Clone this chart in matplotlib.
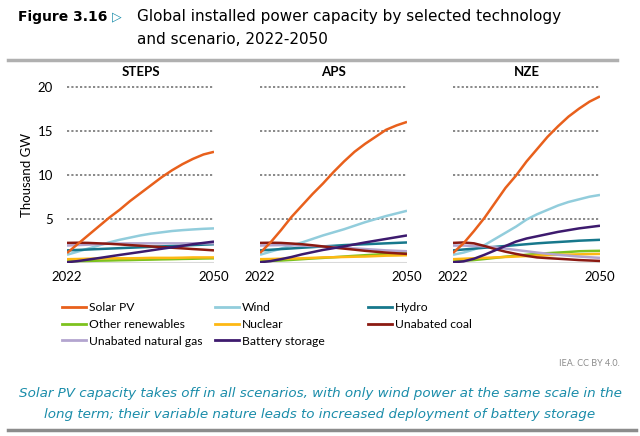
import matplotlib.pyplot as plt
from matplotlib.lines import Line2D

# Datos (miles de GW)
years = [2022, 2024, 2026, 2028, 2030, 2032, 2034, 2036,
         2038, 2040, 2042, 2044, 2046, 2048, 2050]
scenarios = ["STEPS", "APS", "NZE"]
technologies = ["Solar PV", "Wind", "Hydro", "Other renewables", "Nuclear",
                "Unabated coal", "Unabated natural gas", "Battery storage"]

steps_solar = [1.1, 2.1, 3.1, 4.1, 5.1, 6.0, 7.0, 7.9, 8.8, 9.7, 10.5, 11.2, 11.8, 12.3, 12.6]
steps_wind = [0.9, 1.25, 1.6, 1.95, 2.3, 2.6, 2.85, 3.1, 3.3, 3.45, 3.6, 3.7, 3.78, 3.85, 3.9]
steps_hydro = [1.4, 1.45, 1.5, 1.55, 1.6, 1.65, 1.7, 1.75, 1.8, 1.85, 1.9, 1.95, 2.0, 2.05, 2.1]
steps_other = [0.15, 0.18, 0.2, 0.23, 0.25, 0.28, 0.3, 0.33, 0.35, 0.38, 0.4, 0.43, 0.45, 0.48, 0.5]
steps_nuclear = [0.4, 0.42, 0.45, 0.47, 0.5, 0.5, 0.5, 0.52, 0.55, 0.55, 0.55, 0.57, 0.6, 0.6, 0.6]
steps_coal = [2.25, 2.27, 2.25, 2.2, 2.15, 2.08, 2.0, 1.93, 1.85, 1.78, 1.7, 1.63, 1.55, 1.48, 1.4]
steps_gas = [1.95, 2.0, 2.05, 2.1, 2.15, 2.18, 2.2, 2.2, 2.2, 2.2, 2.2, 2.2, 2.2, 2.2, 2.2]
steps_battery = [0.05, 0.18, 0.35, 0.52, 0.7, 0.88, 1.05, 1.22, 1.4, 1.58, 1.75, 1.92, 2.1, 2.25, 2.4]

aps_solar = [1.1, 2.3, 3.7, 5.2, 6.5, 7.8, 9.0, 10.3, 11.5, 12.6, 13.5, 14.3, 15.1, 15.6, 16.0]
aps_wind = [0.9, 1.25, 1.6, 1.95, 2.3, 2.7, 3.1, 3.45, 3.8, 4.2, 4.6, 4.95, 5.3, 5.6, 5.9]
aps_hydro = [1.4, 1.47, 1.55, 1.62, 1.7, 1.77, 1.85, 1.92, 2.0, 2.05, 2.1, 2.15, 2.2, 2.25, 2.3]
aps_other = [0.15, 0.2, 0.25, 0.32, 0.4, 0.48, 0.55, 0.62, 0.7, 0.78, 0.85, 0.92, 1.0, 1.05, 1.1]
aps_nuclear = [0.4, 0.42, 0.45, 0.47, 0.5, 0.55, 0.6, 0.62, 0.65, 0.68, 0.7, 0.75, 0.8, 0.82, 0.85]
aps_coal = [2.25, 2.27, 2.25, 2.18, 2.1, 1.98, 1.85, 1.72, 1.6, 1.48, 1.35, 1.25, 1.15, 1.07, 1.0]
aps_gas = [1.95, 1.98, 2.0, 1.98, 1.95, 1.9, 1.85, 1.78, 1.7, 1.62, 1.55, 1.48, 1.4, 1.35, 1.3]
aps_battery = [0.05, 0.18, 0.4, 0.65, 0.95, 1.2, 1.45, 1.65, 1.85, 2.08, 2.3, 2.5, 2.7, 2.9, 3.1]

nze_solar = [1.1, 2.2, 3.6, 5.1, 6.8, 8.5, 9.9, 11.5, 12.9, 14.3, 15.5, 16.6, 17.5, 18.3, 18.9]
nze_wind = [0.9, 1.15, 1.5, 2.0, 2.7, 3.4, 4.1, 4.9, 5.5, 6.0, 6.5, 6.9, 7.2, 7.5, 7.7]
nze_hydro = [1.4, 1.5, 1.6, 1.7, 1.8, 1.9, 2.0, 2.1, 2.2, 2.28, 2.35, 2.42, 2.5, 2.55, 2.6]
nze_other = [0.15, 0.22, 0.3, 0.42, 0.55, 0.68, 0.8, 0.9, 1.0, 1.08, 1.15, 1.22, 1.3, 1.33, 1.35]
nze_nuclear = [0.4, 0.45, 0.5, 0.55, 0.6, 0.65, 0.7, 0.75, 0.8, 0.85, 0.9, 0.92, 0.95, 0.98, 1.0]
nze_coal = [2.25, 2.3, 2.2, 1.9, 1.55, 1.25, 1.0, 0.78, 0.6, 0.52, 0.45, 0.38, 0.3, 0.25, 0.2]
nze_gas = [1.95, 1.95, 1.9, 1.85, 1.75, 1.6, 1.45, 1.3, 1.15, 1.02, 0.9, 0.8, 0.7, 0.62, 0.55]
nze_battery = [0.05, 0.15, 0.45, 0.9, 1.4, 1.9, 2.4, 2.75, 3.0, 3.25, 3.5, 3.7, 3.9, 4.05, 4.2]

series = {
    "STEPS": [steps_solar, steps_wind, steps_hydro, steps_other,
              steps_nuclear, steps_coal, steps_gas, steps_battery],
    "APS": [aps_solar, aps_wind, aps_hydro, aps_other,
            aps_nuclear, aps_coal, aps_gas, aps_battery],
    "NZE": [nze_solar, nze_wind, nze_hydro, nze_other,
            nze_nuclear, nze_coal, nze_gas, nze_battery],
}

colors = ["#E8601C", "#92CDDC", "#17788C", "#7DC21E",
          "#FDB813", "#8B1A12", "#B3A5CF", "#3D1A6E"]
zorders = [10, 5, 6, 3, 4, 7, 6, 8]

teal = "#1B8DAA"
plt.rcParams['font.family'] = ['Lato', 'DejaVu Sans']

fig = plt.figure(figsize=(6.4, 4.36), dpi=100)

# Posiciones de los paneles (fracción de figura)
lefts = [67 / 640, 260 / 640, 453 / 640]
width = 147 / 640
bottom = 1 - 262.7 / 436
height = 176 / 436

for i, sc in enumerate(scenarios):
    ax = fig.add_axes([lefts[i], bottom, width, height])
    for j, vals in enumerate(series[sc]):
        ax.plot(years, vals, color=colors[j], lw=1.8, zorder=zorders[j],
                solid_capstyle='butt', label=technologies[j])
    ax.set_xlim(2022, 2050)
    ax.set_ylim(0, 20)
    for y in [5, 10, 15, 20]:
        ax.axhline(y, color="#7F7F7F", lw=1.3, ls=(0, (1.2, 1.2)), zorder=1, clip_on=False)
    ax.axhline(0, color="#D9D9D9", lw=1.5, zorder=0)
    for s in ax.spines.values():
        s.set_visible(False)
    ax.set_xticks([2022, 2050])
    ax.set_xticklabels(["2022", "2050"], fontsize=9.5)
    ax.tick_params(axis='x', length=0, pad=6)
    ax.set_yticks([5, 10, 15, 20])
    if i == 0:
        ax.set_yticklabels(["5", "10", "15", "20"], fontsize=9.5)
        ax.tick_params(axis='y', length=0, pad=10)
        ax.set_ylabel("Thousand GW", fontsize=9.5, labelpad=3)
    else:
        ax.tick_params(axis='y', length=0, labelleft=False)
    ax.set_title(sc, fontsize=9.5, fontweight='bold', pad=8)

# Leyenda en tres columnas
handles = [Line2D([], [], color=c, lw=2) for c in colors]
cols = [[0, 3, 6], [1, 4, 7], [2, 5]]
col_x = [62, 215, 368]
for k, idx in enumerate(cols):
    fig.legend([handles[n] for n in idx], [technologies[n] for n in idx],
               loc='upper left', bbox_to_anchor=(col_x[k] / 640, 1 - 302 / 436),
               frameon=False, fontsize=8.7, handlelength=2.0, handletextpad=0.2,
               labelspacing=0.48, borderpad=0, borderaxespad=0)

# Título
fig.text(18 / 640, 1 - 17 / 436, "Figure 3.16", fontsize=10, fontweight='bold',
         va='center', ha='left', family=['DejaVu Sans'])
fig.text(112 / 640, 1 - 17 / 436, "▷", fontsize=9, color=teal, va='center',
         ha='left', family=['DejaVu Sans'])
fig.text(137 / 640, 1 - 17 / 436, "Global installed power capacity by selected technology",
         fontsize=11, va='center', ha='left', family=['DejaVu Sans'])
fig.text(137 / 640, 1 - 40 / 436, "and scenario, 2022-2050",
         fontsize=11, va='center', ha='left', family=['DejaVu Sans'])
fig.add_artist(Line2D([8 / 640, 617 / 640], [1 - 60 / 436, 1 - 60 / 436],
                      color="#B0B0B0", lw=2.5))

fig.text(620 / 640, 1 - 363 / 436, "IEA. CC BY 4.0.", fontsize=6.5,
         color="#8C8C8C", ha='right', va='center')

fig.text(320 / 640, 1 - 393 / 436,
         "Solar PV capacity takes off in all scenarios, with only wind power at the same scale in the",
         fontsize=9.7, style='italic', color=teal, ha='center', va='center', family=['DejaVu Sans'])
fig.text(320 / 640, 1 - 414 / 436,
         "long term; their variable nature leads to increased deployment of battery storage",
         fontsize=9.7, style='italic', color=teal, ha='center', va='center', family=['DejaVu Sans'])
fig.add_artist(Line2D([8 / 640, 636 / 640], [1 - 430 / 436, 1 - 430 / 436],
                      color="#8C8C8C", lw=2.5))

fig.savefig("out.png", dpi=100)
